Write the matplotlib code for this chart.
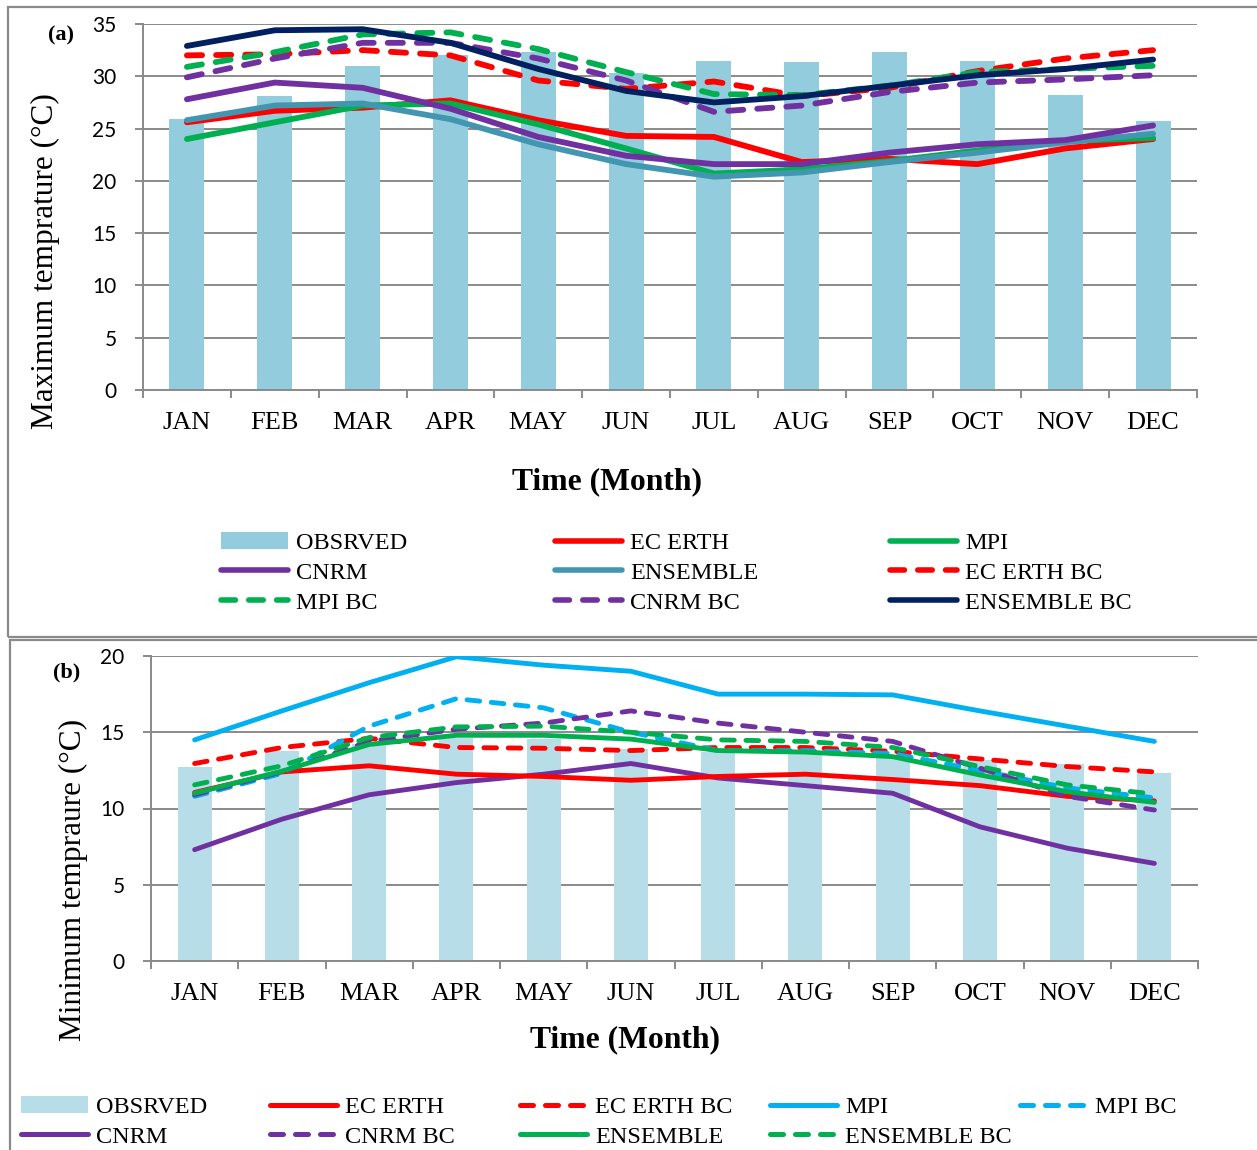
import numpy as np
import matplotlib.pyplot as plt
from matplotlib.patches import Rectangle, Patch
from matplotlib.lines import Line2D

months = ['JAN', 'FEB', 'MAR', 'APR', 'MAY', 'JUN',
          'JUL', 'AUG', 'SEP', 'OCT', 'NOV', 'DEC']

# (a) maximum temperature, deg C
tmax_obs = [25.9, 28.1, 31.0, 32.0, 32.3, 30.3, 31.5, 31.4, 32.3, 31.5, 28.2, 25.7]
tmax_ec = [25.6, 26.7, 27.0, 27.7, 25.8, 24.3, 24.2, 21.8, 22.1, 21.6, 23.1, 24.0]
tmax_mpi = [24.0, 25.6, 27.2, 27.4, 25.4, 23.1, 20.7, 21.1, 21.9, 22.9, 23.8, 24.1]
tmax_cnrm = [27.8, 29.4, 28.9, 26.9, 24.2, 22.4, 21.6, 21.6, 22.7, 23.5, 23.9, 25.3]
tmax_ens = [25.8, 27.2, 27.4, 25.9, 23.5, 21.6, 20.4, 20.8, 21.8, 22.7, 23.7, 24.5]
tmax_ec_bc = [32.0, 32.1, 32.5, 32.0, 29.6, 28.8, 29.5, 28.1, 28.9, 30.5, 31.7, 32.5]
tmax_mpi_bc = [30.9, 32.3, 34.0, 34.2, 32.6, 30.4, 28.3, 28.2, 29.1, 30.4, 30.7, 31.0]
tmax_cnrm_bc = [29.9, 31.7, 33.2, 33.2, 31.7, 29.6, 26.6, 27.2, 28.5, 29.4, 29.7, 30.1]
tmax_ens_bc = [32.9, 34.4, 34.5, 33.2, 30.7, 28.6, 27.5, 28.1, 29.1, 30.1, 30.7, 31.6]

# (b) minimum temperature, deg C
tmin_obs = [12.7, 13.8, 14.2, 14.65, 14.55, 13.9, 13.7, 13.6, 13.4, 13.2, 12.9, 12.3]
tmin_ec = [11.05, 12.4, 12.8, 12.25, 12.1, 11.85, 12.1, 12.25, 11.9, 11.5, 10.8, 10.5]
tmin_ec_bc = [12.95, 14.0, 14.6, 14.0, 13.95, 13.8, 14.0, 14.0, 13.75, 13.25, 12.75, 12.4]
tmin_mpi = [14.5, 16.4, 18.25, 19.95, 19.4, 19.0, 17.5, 17.5, 17.45, 16.4, 15.4, 14.4]
tmin_mpi_bc = [10.8, 12.3, 15.4, 17.2, 16.6, 15.0, 13.8, 13.8, 13.6, 12.5, 11.35, 10.7]
tmin_cnrm = [7.3, 9.3, 10.9, 11.7, 12.25, 12.95, 12.0, 11.5, 11.0, 8.8, 7.4, 6.4]
tmin_cnrm_bc = [10.9, 12.4, 14.4, 15.2, 15.6, 16.4, 15.6, 15.0, 14.4, 12.65, 10.8, 9.9]
tmin_ens = [11.0, 12.45, 14.2, 14.8, 14.8, 14.55, 13.8, 13.7, 13.4, 12.2, 11.1, 10.4]
tmin_ens_bc = [11.55, 12.8, 14.65, 15.35, 15.4, 15.0, 14.5, 14.4, 14.0, 12.75, 11.55, 10.95]

RED = '#FF0000'
GREEN = '#00B050'
PURPLE = '#7030A0'
TEAL = '#4396B0'
NAVY = '#002060'
CYAN = '#00B0F0'
GRID = '#8A8A8A'
SERIF = 'Liberation Serif'
SANS = 'Lato'
DASH = (0, (2.6, 2.4))

W, H = 1257, 1150
fig = plt.figure(figsize=(W / 100, H / 100), dpi=100)


def fx(px):
    return px / W


def fy(py):
    return 1 - py / H


# panel frames
fig.add_artist(Rectangle((fx(8), fy(637)), fx(1300), fy(7) - fy(637), transform=fig.transFigure,
                         fill=False, edgecolor=GRID, lw=1.6, clip_on=False))
fig.add_artist(Rectangle((fx(10), fy(1200)), fx(1300), fy(640) - fy(1200), transform=fig.transFigure,
                         fill=False, edgecolor=GRID, lw=1.6, clip_on=False))


def style_axes(ax, ymax, ticklen):
    x = np.arange(12)
    ax.set_xlim(-0.5, 11.5)
    ax.set_ylim(0, ymax)
    ax.set_yticks(np.arange(0, ymax + 1, 5))
    ax.set_xticks(np.arange(-0.5, 12, 1))
    ax.set_xticklabels([])
    ax.set_xticks(x, minor=True)
    ax.set_xticklabels(months, minor=True, fontfamily=SERIF, fontsize=19)
    ax.tick_params(axis='x', which='major', direction='out', length=6, width=1.4, color=GRID)
    ax.tick_params(axis='x', which='minor', length=0, pad=16)
    ax.tick_params(axis='y', direction='out', length=ticklen, width=1.4, color=GRID, pad=13,
                   labelsize=15)
    for lab in ax.get_yticklabels():
        lab.set_fontfamily(SANS)
    ax.grid(axis='y', color=GRID, lw=1.4)
    ax.set_axisbelow(True)
    for s in ['top', 'right']:
        ax.spines[s].set_visible(False)
    for s in ['left', 'bottom']:
        ax.spines[s].set_color(GRID)
        ax.spines[s].set_linewidth(1.4)
    return x


def draw(ax, x, y, color, dashed, lw):
    if dashed:
        ax.plot(x, y, color=color, lw=lw, ls=DASH, dash_capstyle='round', zorder=3)
    else:
        ax.plot(x, y, color=color, lw=lw, solid_capstyle='round', zorder=3)


def col_legend(items, x_px, y_px, lw):
    handles = []
    labels = []
    for lab, kind, color, dashed in items:
        if kind == 'bar':
            handles.append(Patch(facecolor=color, edgecolor='none'))
        elif dashed:
            handles.append(Line2D([], [], color=color, lw=lw, ls=DASH, dash_capstyle='round'))
        else:
            handles.append(Line2D([], [], color=color, lw=lw, solid_capstyle='round'))
        labels.append(lab)
    leg = fig.legend(handles, labels, loc='upper left', bbox_to_anchor=(fx(x_px), fy(y_px)),
                     frameon=False, borderpad=0, borderaxespad=0, handlelength=2.75,
                     handletextpad=0.35, labelspacing=0.32,
                     prop={'family': SERIF, 'size': 17.5})
    return leg


# ---- (a) maximum temperature ----
axa = fig.add_axes([fx(143), fy(390), fx(1197) - fx(143), fy(24) - fy(390)])
x = style_axes(axa, 35, 6)
axa.bar(x, tmax_obs, width=0.4, color='#93CDDD', zorder=2)
lw_a = 4.2
draw(axa, x, tmax_ec, RED, False, lw_a)
draw(axa, x, tmax_mpi, GREEN, False, lw_a)
draw(axa, x, tmax_ens, TEAL, False, lw_a)
draw(axa, x, tmax_cnrm, PURPLE, False, lw_a)
draw(axa, x, tmax_ec_bc, RED, True, lw_a)
draw(axa, x, tmax_cnrm_bc, PURPLE, True, lw_a)
draw(axa, x, tmax_mpi_bc, GREEN, True, lw_a)
draw(axa, x, tmax_ens_bc, NAVY, False, lw_a)
axa.set_ylabel('Maximum temprature (°C)', fontfamily=SERIF, fontsize=22.5)
axa.yaxis.set_label_coords(-0.079, 0.352)
fig.text(fx(607), fy(482), 'Time (Month)', fontfamily=SERIF, fontsize=22.8, fontweight='bold',
         ha='center', va='center')
fig.text(fx(61), fy(35), '(a)', fontfamily=SERIF, fontsize=16, fontweight='bold',
         ha='center', va='center')

col_legend([('OBSRVED', 'bar', '#93CDDD', False),
            ('CNRM', 'line', PURPLE, False),
            ('MPI BC', 'line', GREEN, True)], 221, 532, 4.0)
col_legend([('EC ERTH', 'line', RED, False),
            ('ENSEMBLE', 'line', TEAL, False),
            ('CNRM BC', 'line', PURPLE, True)], 555, 532, 4.0)
col_legend([('MPI', 'line', GREEN, False),
            ('EC ERTH BC', 'line', RED, True),
            ('ENSEMBLE BC', 'line', NAVY, False)], 890, 532, 4.0)

# ---- (b) minimum temperature ----
axb = fig.add_axes([fx(151), fy(961), fx(1198) - fx(151), fy(656) - fy(961)])
x = style_axes(axb, 20, 6)
axb.bar(x, tmin_obs, width=0.39, color='#B7DEE8', zorder=2)
lw_b = 3.5
draw(axb, x, tmin_mpi, CYAN, False, lw_b)
draw(axb, x, tmin_cnrm, PURPLE, False, lw_b)
draw(axb, x, tmin_ec, RED, False, lw_b)
draw(axb, x, tmin_ec_bc, RED, True, lw_b)
draw(axb, x, tmin_mpi_bc, CYAN, True, lw_b)
draw(axb, x, tmin_cnrm_bc, PURPLE, True, lw_b)
draw(axb, x, tmin_ens_bc, GREEN, True, lw_b)
draw(axb, x, tmin_ens, GREEN, False, lw_b)
axb.set_ylabel('Minimum tempraure (°C)', fontfamily=SERIF, fontsize=22.5)
axb.yaxis.set_label_coords(-0.060, 0.266)
fig.text(fx(625), fy(1040), 'Time (Month)', fontfamily=SERIF, fontsize=22.8, fontweight='bold',
         ha='center', va='center')
fig.text(fx(67), fy(672), '(b)', fontfamily=SERIF, fontsize=16, fontweight='bold',
         ha='center', va='center')

col_legend([('OBSRVED', 'bar', '#B7DEE8', False),
            ('CNRM', 'line', PURPLE, False)], 21, 1096, 3.6)
col_legend([('EC ERTH', 'line', RED, False),
            ('CNRM BC', 'line', PURPLE, True)], 270, 1096, 3.6)
col_legend([('EC ERTH BC', 'line', RED, True),
            ('ENSEMBLE', 'line', GREEN, False)], 520, 1096, 3.6)
col_legend([('MPI', 'line', CYAN, False),
            ('ENSEMBLE BC', 'line', GREEN, True)], 770, 1096, 3.6)
col_legend([('MPI BC', 'line', CYAN, True)], 1020, 1096, 3.6)

fig.savefig('out.png', dpi=100)
